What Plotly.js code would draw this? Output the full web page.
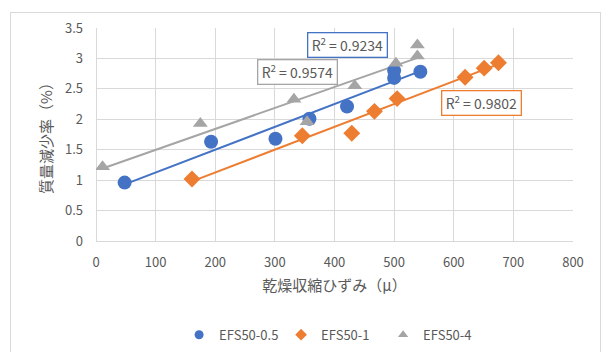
<!DOCTYPE html>
<html>
<head>
<meta charset="utf-8">
<script src="https://cdn.plot.ly/plotly-3.0.1.min.js"></script>
<style>
  html, body { margin: 0; padding: 0; background: #ffffff; }
  #frame { position: absolute; left: 10px; top: 12px; width: 591px; height: 360px;
           border: 1px solid #d9d9d9; box-sizing: border-box; }
  #chart { position: absolute; left: 0; top: 0; width: 603px; height: 352px; }
</style>
</head>
<body>
<div id="frame"></div>
<div id="chart"></div>
<script>
// 乾燥収縮ひずみ（μ）vs 質量減少率（%）
const seriesNames = ["EFS50-0.5", "EFS50-1", "EFS50-4"];
const seriesColors = ["#4472C4", "#ED7D31", "#A5A5A5"];
const seriesSymbols = ["circle", "diamond", "triangle-up"];

const strain05 = [48, 193, 301, 358, 421, 500, 500, 544];
const loss05   = [0.96, 1.63, 1.68, 2.01, 2.21, 2.68, 2.80, 2.78];

const strain1 = [161, 346, 429, 467, 505, 619, 651, 675];
const loss1   = [1.02, 1.73, 1.77, 2.13, 2.34, 2.69, 2.84, 2.93];

const strain4 = [11, 175, 332, 354, 434, 503, 539, 539];
const loss4   = [1.22, 1.93, 2.33, 1.96, 2.55, 2.92, 3.04, 3.22];

const r2Labels = ["R<sup>2</sup> = 0.9234", "R<sup>2</sup> = 0.9802", "R<sup>2</sup> = 0.9574"];
const r2Pos = [[422, 3.22], [647, 2.27], [338, 2.77]];

const xTicks = [0, 100, 200, 300, 400, 500, 600, 700, 800];
const yTicks = [0, 0.5, 1, 1.5, 2, 2.5, 3, 3.5];

const xs = [strain05, strain1, strain4];
const ys = [loss05, loss1, loss4];

// least-squares linear trend over the data range
function trend(x, y) {
  const n = x.length;
  const mx = x.reduce((a, b) => a + b, 0) / n;
  const my = y.reduce((a, b) => a + b, 0) / n;
  let sxy = 0, sxx = 0;
  for (let i = 0; i < n; i++) { sxy += (x[i] - mx) * (y[i] - my); sxx += (x[i] - mx) ** 2; }
  const b = sxy / sxx, a = my - b * mx;
  const x0 = Math.min(...x), x1 = Math.max(...x);
  return { x: [x0, x1], y: [a + b * x0, a + b * x1] };
}

const font = "'Noto Sans CJK JP', 'Noto Sans', sans-serif";
const grey = "#595959";
const traces = [];
for (let i = 0; i < 3; i++) {
  const t = trend(xs[i], ys[i]);
  traces.push({
    x: t.x, y: t.y, mode: "lines", type: "scatter", showlegend: false,
    line: { color: seriesColors[i], width: 2 }, hoverinfo: "skip"
  });
}
for (let i = 0; i < 3; i++) {
  traces.push({
    x: xs[i], y: ys[i], mode: "markers", type: "scatter", name: seriesNames[i],
    legendgroup: seriesNames[i], showlegend: false,
    marker: { color: seriesColors[i], symbol: seriesSymbols[i], size: i === 0 ? 14 : 13 }
  });
}
// legend entries with smaller symbols than the plotted markers
for (let i = 0; i < 3; i++) {
  traces.push({
    x: [null], y: [null], mode: "markers", type: "scatter", name: seriesNames[i],
    legendgroup: seriesNames[i], showlegend: true,
    marker: { color: seriesColors[i], symbol: seriesSymbols[i], size: 9 }
  });
}

const annotations = r2Labels.map((txt, i) => ({
  x: r2Pos[i][0], y: r2Pos[i][1], xref: "x", yref: "y",
  text: txt, showarrow: false,
  font: { family: font, size: 14, color: grey },
  bgcolor: "#ffffff", bordercolor: seriesColors[i], borderwidth: 1.3,
  borderpad: 2, width: 74, height: 19
}));

const layout = {
  width: 603, height: 352,
  margin: { l: 96, r: 30, t: 28, b: 111 },
  paper_bgcolor: "rgba(0,0,0,0)", plot_bgcolor: "rgba(0,0,0,0)",
  font: { family: font, color: grey, size: 13 },
  xaxis: {
    range: [0, 800], tickvals: xTicks, ticktext: xTicks.map(String),
    showgrid: true, gridcolor: "#d9d9d9", gridwidth: 1,
    zeroline: true, zerolinecolor: "#d9d9d9", zerolinewidth: 1,
    showline: false, ticks: "", ticklen: 0, ticklabelstandoff: 12,
    automargin: false,
    tickfont: { family: font, size: 13, color: grey },
    title: { text: "乾燥収縮ひずみ（μ）", font: { family: font, size: 15, color: grey }, standoff: 10 }
  },
  yaxis: {
    range: [0, 3.5], tickvals: yTicks, ticktext: yTicks.map(String),
    showgrid: true, gridcolor: "#d9d9d9", gridwidth: 1,
    zeroline: true, zerolinecolor: "#d9d9d9", zerolinewidth: 1,
    showline: false, ticks: "", ticklen: 0, ticklabelstandoff: 12,
    automargin: false,
    tickfont: { family: font, size: 13, color: grey },
    title: { text: "質量減少率（%）", font: { family: font, size: 15, color: grey }, standoff: 8 }
  },
  legend: {
    orientation: "h", xref: "container", yref: "container",
    x: 0.297, xanchor: "left", y: 0.049, yanchor: "middle",
    font: { family: font, size: 13, color: grey }, itemwidth: 30,
    entrywidth: 57, entrywidthmode: "pixels", bgcolor: "rgba(0,0,0,0)"
  },
  annotations: annotations,
  showlegend: true
};

Plotly.newPlot("chart", traces, layout, { displayModeBar: false, staticPlot: true });
</script>
</body>
</html>
